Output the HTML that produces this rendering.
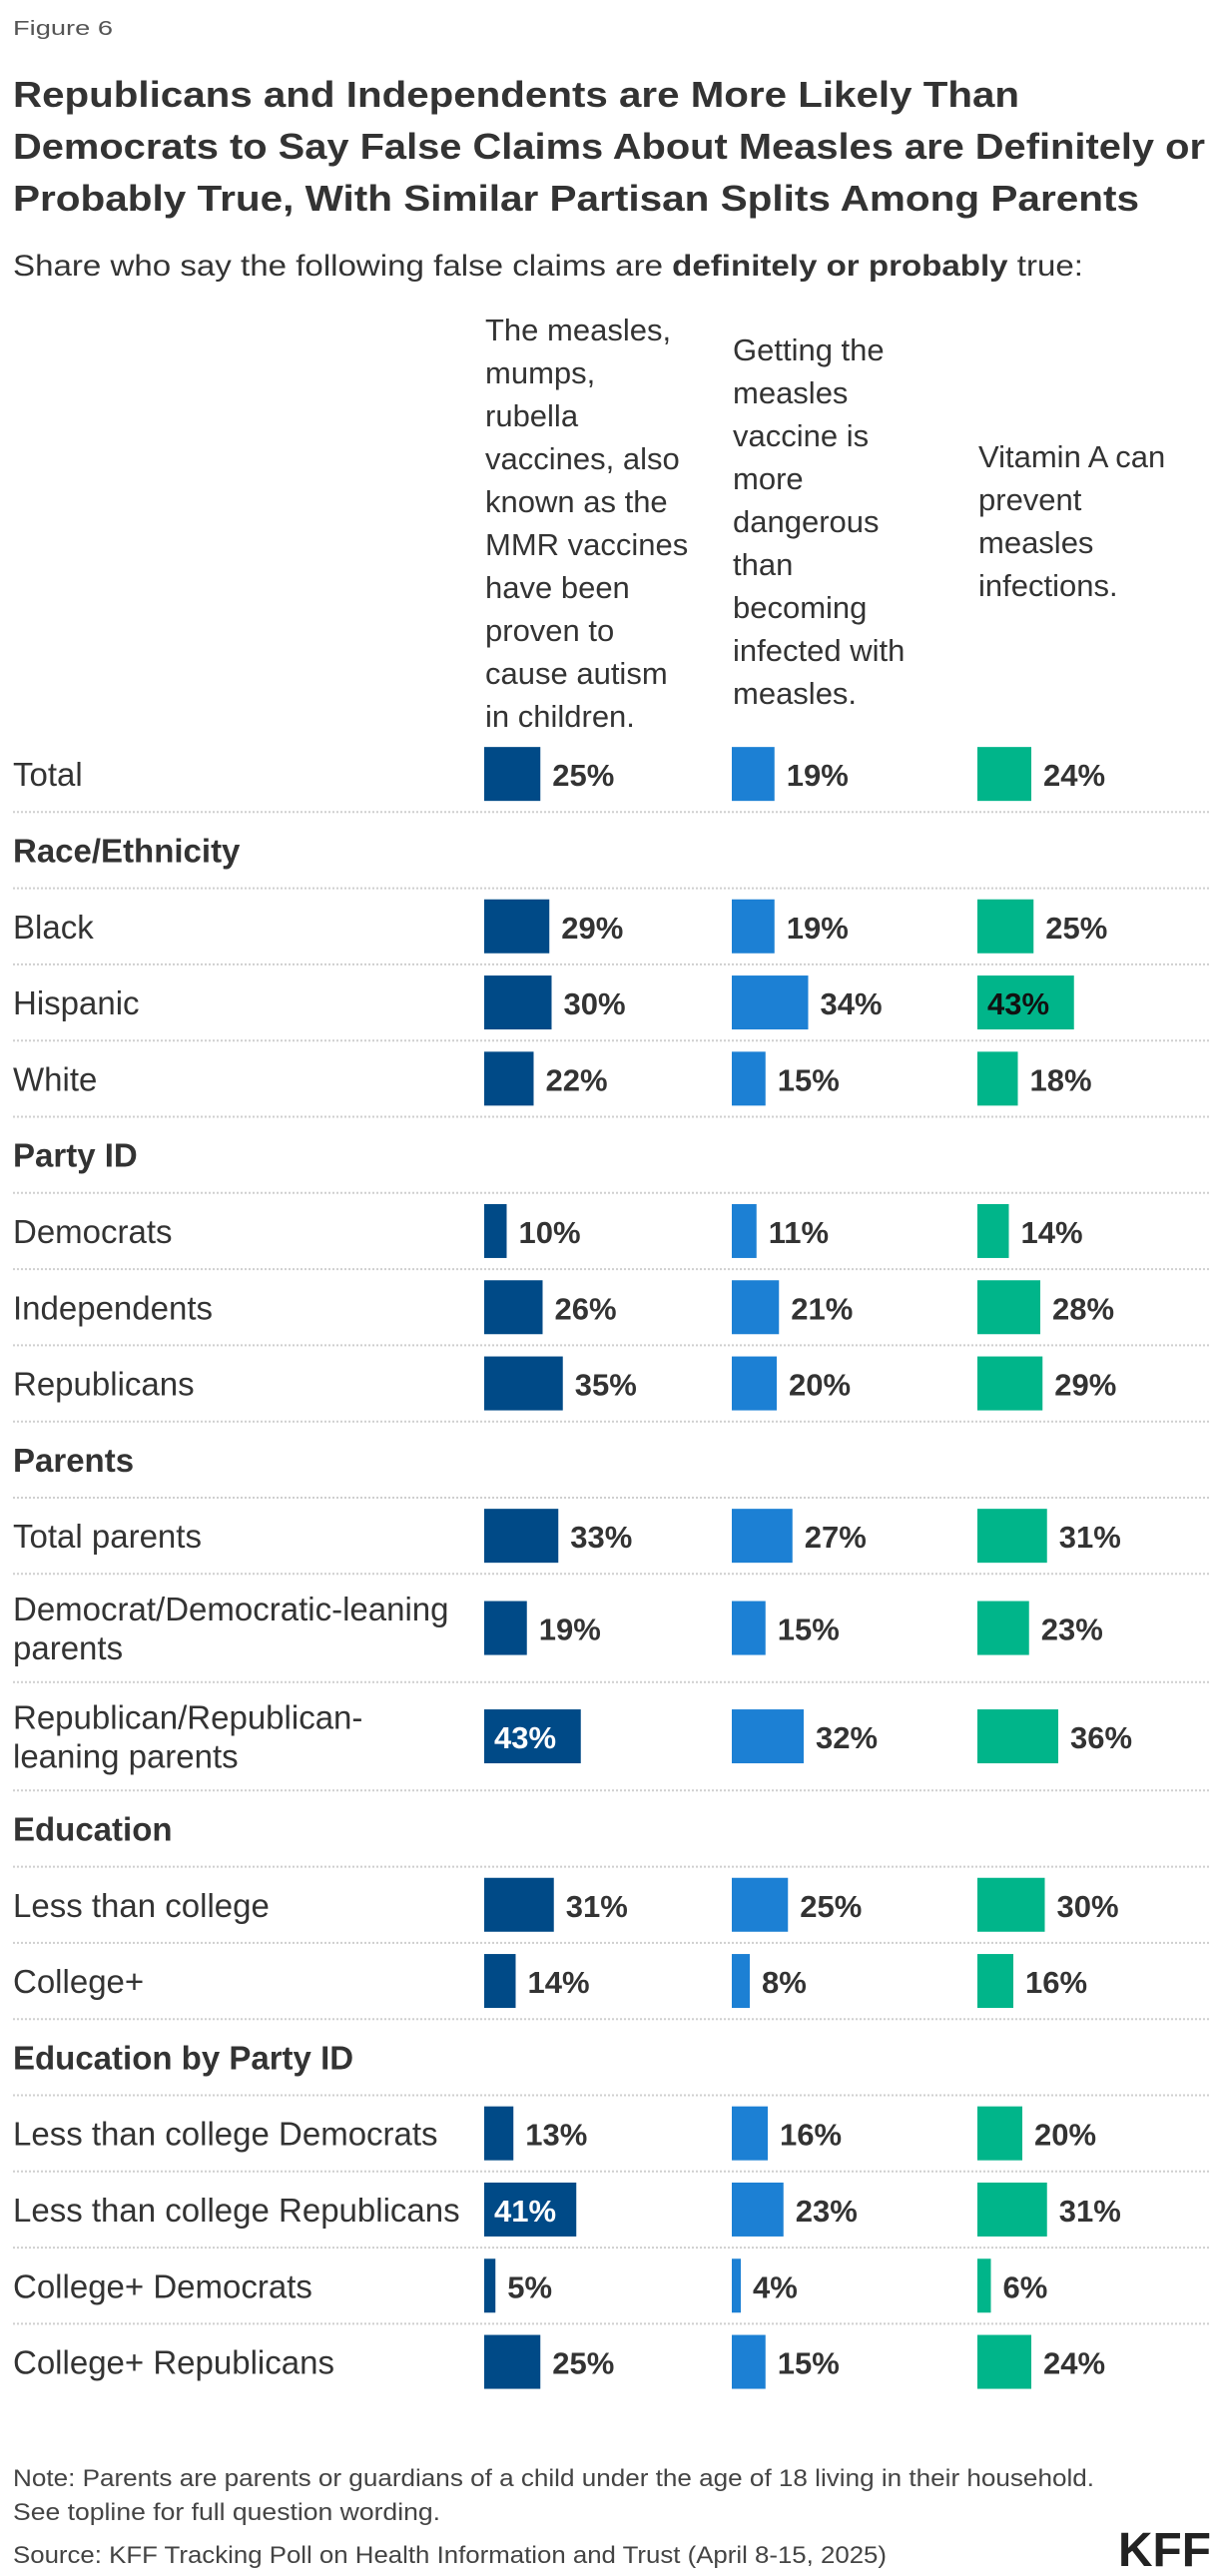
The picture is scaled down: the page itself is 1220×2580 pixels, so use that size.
<!DOCTYPE html>
<html><head><meta charset="utf-8"><style>
html,body{margin:0;padding:0;background:#fff;}
svg{display:block;font-family:"Liberation Sans",sans-serif;}
</style></head><body>
<svg id="chart" width="1220" height="2580" viewBox="0 0 1220 2580" xmlns="http://www.w3.org/2000/svg">
<text x="13" y="35" font-size="20" fill="#555" textLength="100" lengthAdjust="spacingAndGlyphs">Figure 6</text>
<g font-weight="bold" font-size="36" fill="#333">
<text x="13" y="107" textLength="1008" lengthAdjust="spacingAndGlyphs">Republicans and Independents are More Likely Than</text>
<text x="13" y="159" textLength="1194" lengthAdjust="spacingAndGlyphs">Democrats to Say False Claims About Measles are Definitely or</text>
<text x="13" y="211" textLength="1128" lengthAdjust="spacingAndGlyphs">Probably True, With Similar Partisan Splits Among Parents</text>
</g>
<text x="13" y="276" font-size="30" fill="#333" textLength="1072" lengthAdjust="spacingAndGlyphs">Share who say the following false claims are <tspan font-weight="bold">definitely or probably</tspan> true:</text>
<g id="headers" font-size="31" fill="#333"></g>
<g id="rows"></g>
<g font-size="24" fill="#444">
<text x="13" y="2490" textLength="1083" lengthAdjust="spacingAndGlyphs">Note: Parents are parents or guardians of a child under the age of 18 living in their household.</text>
<text x="13" y="2524" textLength="428" lengthAdjust="spacingAndGlyphs">See topline for full question wording.</text>
<text x="13" y="2567" textLength="875" lengthAdjust="spacingAndGlyphs">Source: KFF Tracking Poll on Health Information and Trust (April 8-15, 2025)</text>
</g>
<text x="1120" y="2570" font-size="48" font-weight="bold" fill="#222" textLength="93" lengthAdjust="spacingAndGlyphs">KFF</text>
</svg>
<script>
const categories = ["Total","Race/Ethnicity","Black","Hispanic","White","Party ID","Democrats","Independents","Republicans","Parents","Total parents","Democrat/Democratic-leaning|parents","Republican/Republican-|leaning parents","Education","Less than college","College+","Education by Party ID","Less than college Democrats","Less than college Republicans","College+ Democrats","College+ Republicans"];
const isHeader = [false,true,false,false,false,true,false,false,false,true,false,false,false,true,false,false,true,false,false,false,false];
const mmrValues = [25,null,29,30,22,null,10,26,35,null,33,19,43,null,31,14,null,13,41,5,25];
const dangerValues = [19,null,19,34,15,null,11,21,20,null,27,15,32,null,25,8,null,16,23,4,15];
const vitaminValues = [24,null,25,43,18,null,14,28,29,null,31,23,36,null,30,16,null,20,31,6,24];
const seriesNames = ["mmr-autism","vaccine-dangerous","vitamin-a"];
const headerLines = [
 ["The measles,","mumps,","rubella","vaccines, also","known as the","MMR vaccines","have been","proven to","cause autism","in children."],
 ["Getting the","measles","vaccine is","more","dangerous","than","becoming","infected with","measles."],
 ["Vitamin A can","prevent","measles","infections."]
];
const NS="http://www.w3.org/2000/svg";
const colX=[485,733,979];
const colors=["#004A87","#1C80D4","#00B58A"];
const insideColors=["#ffffff","#ffffff","#111111"];
const pxPerPct=2.25;
const xScale=v=>v*pxPerPct;
const headStart=[330,350,457];
const hg=document.getElementById('headers');
headerLines.forEach((lines,c)=>{
  const t=document.createElementNS(NS,'text');
  
  
  lines.forEach((ln,i)=>{
    const ts=document.createElementNS(NS,'tspan');
    ts.setAttribute('x',colX[c]+1);
    ts.setAttribute('y',headStart[c]+i*43+11);
    ts.textContent=ln;
    t.appendChild(ts);
  });
  hg.appendChild(t);
});
const rg=document.getElementById('rows');
let y=737;
const allVals=[mmrValues,dangerValues,vitaminValues];
categories.forEach((cat,i)=>{
  const two=cat.indexOf('|')>=0;
  const h=two?108.5:76.3;
  const cy=y+h/2;
  const g=document.createElementNS(NS,'g');
  
  
  const lbl=document.createElementNS(NS,'text');
  
  
  lbl.setAttribute('font-size','33');
  lbl.setAttribute('fill','#333');
  if(isHeader[i]) lbl.setAttribute('font-weight','bold');
  const parts=cat.split('|');
  parts.forEach((p,k)=>{
    const ts=document.createElementNS(NS,'tspan');
    ts.setAttribute('x',13);
    ts.setAttribute('y',cy+12+(parts.length>1?(k-0.5)*39:0));
    ts.textContent=p;
    lbl.appendChild(ts);
  });
  g.appendChild(lbl);
  if(!isHeader[i]){
    allVals.forEach((arr,c)=>{
      const v=arr[i];
      const w=xScale(v);
      const r=document.createElementNS(NS,'rect');
      
      
      r.setAttribute('x',colX[c]);r.setAttribute('y',cy-27);
      r.setAttribute('width',w);r.setAttribute('height',54);
      r.setAttribute('fill',colors[c]);
      g.appendChild(r);
      const t=document.createElementNS(NS,'text');
      
      
      t.setAttribute('font-size','31');
      t.setAttribute('font-weight','bold');
      const inside=v>=40;
      t.setAttribute('x',inside?colX[c]+10:colX[c]+w+12);
      t.setAttribute('y',cy+12);
      t.setAttribute('fill',inside?insideColors[c]:'#333');
      t.textContent=v+'%';
      g.appendChild(t);
    });
  }
  if(i<categories.length-1){
    const l=document.createElementNS(NS,'line');
    
    
    l.setAttribute('x1',13);l.setAttribute('x2',1213);
    l.setAttribute('y1',y+h);l.setAttribute('y2',y+h);
    l.setAttribute('stroke','#cfcfcf');l.setAttribute('stroke-width','2');
    l.setAttribute('stroke-dasharray','2,2');
    g.appendChild(l);
  }
  rg.appendChild(g);
  y+=h;
});
</script>
</body></html>
